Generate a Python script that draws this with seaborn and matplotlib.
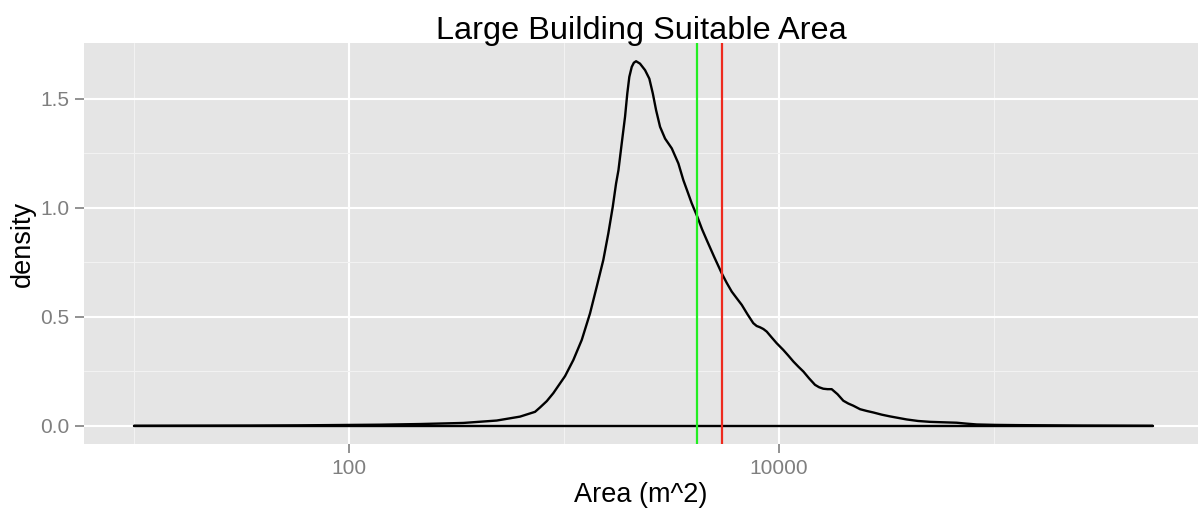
import numpy as np
import pandas as pd
import matplotlib
matplotlib.use("Agg")
import matplotlib.pyplot as plt
import matplotlib.ticker as mticker
import seaborn as sns

# density curve (area in m^2, density of log10 area)
area = [10, 35, 59, 139, 214, 340, 486, 624, 733, 773, 831, 892, 948, 1011,
        1105, 1209, 1321, 1419, 1523, 1607, 1685, 1746, 1791, 1855, 1922, 1969,
        2012, 2065, 2112, 2163, 2256, 2382, 2493, 2588, 2681, 2797, 2951, 3171,
        3403, 3590, 3752, 3926, 4170, 4385, 4612, 4988, 5412, 5710, 6024, 6360,
        6708, 7130, 7590, 7870, 8160, 8460, 8770, 9250, 9750, 10470, 11050,
        11660, 12310, 12980, 13790, 14700, 15350, 16070, 16810, 17580, 18710,
        19910, 21010, 22170, 23830, 25580, 27470, 30040, 32840, 39260, 44330,
        50390, 57910, 67010, 74080, 83130, 102100, 127700, 182000, 259400,
        385500, 547000]
density = [0.0, 0.001, 0.002, 0.005, 0.008, 0.013, 0.024, 0.042, 0.064, 0.084,
           0.113, 0.150, 0.188, 0.228, 0.302, 0.394, 0.516, 0.638, 0.761, 0.883,
           1.005, 1.112, 1.173, 1.296, 1.418, 1.525, 1.601, 1.647, 1.666, 1.673,
           1.662, 1.632, 1.593, 1.525, 1.448, 1.372, 1.318, 1.273, 1.204, 1.127,
           1.075, 1.021, 0.959, 0.902, 0.852, 0.776, 0.700, 0.656, 0.616, 0.585,
           0.555, 0.512, 0.471, 0.458, 0.452, 0.444, 0.432, 0.405, 0.379, 0.348,
           0.322, 0.295, 0.271, 0.249, 0.218, 0.188, 0.177, 0.170, 0.168, 0.168,
           0.145, 0.115, 0.102, 0.092, 0.076, 0.068, 0.061, 0.051, 0.043, 0.029,
           0.022, 0.018, 0.016, 0.014, 0.010, 0.006, 0.004, 0.003, 0.002, 0.001,
           0.0005, 0.0]

# reference lines
green_x = 4170
red_x = 5450

df = pd.DataFrame({"Area": area, "density": density})

sns.set_theme(style="darkgrid", rc={
    "axes.facecolor": "#E5E5E5",
    "grid.color": "white",
    "axes.edgecolor": "none",
})
plt.rcParams["font.family"] = ["Liberation Sans", "DejaVu Sans"]

fig = plt.figure(figsize=(11.98, 5.12), dpi=100)
ax = fig.add_axes([84 / 1198, 1 - 444 / 512, 1 - 84 / 1198, (444 - 43) / 512])

sns.lineplot(data=df, x="Area", y="density", color="black", lw=1.7, ax=ax, zorder=3)
# baseline of the density polygon
ax.plot([area[0], area[-1]], [0, 0], color="black", lw=1.7, zorder=3)

ax.axvline(green_x, color="#22ee22", lw=1.6, zorder=4)
ax.axvline(red_x, color="#ee2a1e", lw=1.6, zorder=4)

ax.set_xscale("log")
ax.set_xlim(10 ** 0.767, 10 ** 5.949)
ymax = max(density)
ax.set_ylim(-ymax * 0.05, ymax * 1.05)

ax.xaxis.set_major_locator(mticker.FixedLocator([100, 10000]))
ax.xaxis.set_major_formatter(mticker.FixedFormatter(["100", "10000"]))
ax.xaxis.set_minor_locator(mticker.FixedLocator([10, 1000, 100000]))
ax.xaxis.set_minor_formatter(mticker.NullFormatter())
ax.set_yticks([0.0, 0.5, 1.0, 1.5])
ax.set_yticklabels(["0.0", "0.5", "1.0", "1.5"])
ax.yaxis.set_minor_locator(mticker.FixedLocator([0.25, 0.75, 1.25]))

ax.grid(which="major", color="white", lw=1.5)
ax.grid(which="minor", color="#F2F2F2", lw=0.8)
ax.tick_params(which="major", bottom=True, left=True, length=6.5, width=1.2,
               color="#7F7F7F", labelcolor="#7F7F7F", labelsize=15, pad=4)
ax.tick_params(which="minor", length=0)
for s in ax.spines.values():
    s.set_visible(False)

ax.set_title("Large Building Suitable Area", fontsize=23.4, pad=3, color="black")
ax.set_xlabel("Area (m^2)", fontsize=19.5, labelpad=3, color="black")
ax.set_ylabel("density", fontsize=19.5, labelpad=3, color="black")

fig.savefig("out.png", dpi=100)
